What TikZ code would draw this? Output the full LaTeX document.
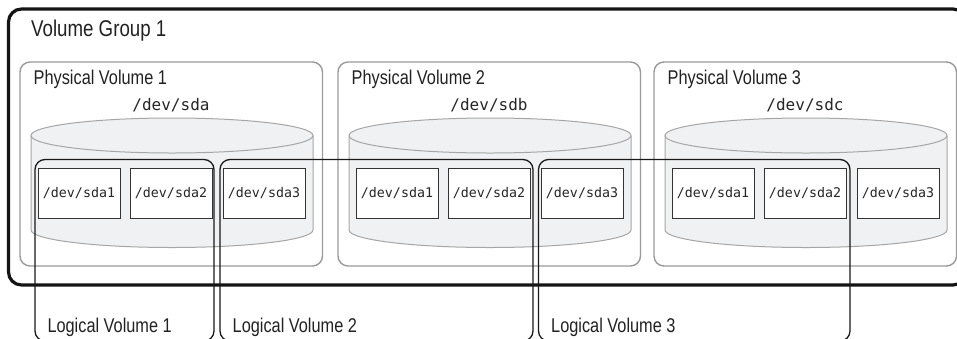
\documentclass[tikz,border=0pt]{standalone}
\usepackage{fontspec}
\setmainfont{Liberation Sans}[FakeStretch=0.82]
\newfontfamily\devmono{DejaVu Sans Mono}
\definecolor{cylfill}{HTML}{F0F1F2}
\definecolor{cylline}{HTML}{A6A6A6}
\definecolor{pvline}{HTML}{9A9A9A}
\definecolor{inktext}{HTML}{222222}
\begin{document}
\begin{tikzpicture}[x=1pt,y=-1pt,
  vgbox/.style={draw=black!92,line width=3.2pt,rounded corners=13pt},
  pvbox/.style={draw=pvline,line width=1.4pt,rounded corners=10pt},
  cylstroke/.style={draw=cylline,line width=1pt},
  partbox/.style={draw=black!80,fill=white,line width=0.9pt,minimum width=82pt,minimum height=50pt,inner sep=0pt,
    font=\devmono\fontsize{13.3}{16}\selectfont,text=black!85},
  devlabel/.style={anchor=base,inner sep=0pt,font=\devmono\fontsize{16}{19}\selectfont,text=black!85},
  lvline/.style={draw=black!90,line width=1.3pt,rounded corners=10pt},
  biglabel/.style={anchor=base west,inner sep=0pt,text=inktext,font=\fontsize{22.8}{27}\selectfont},
  midlabel/.style={anchor=base west,inner sep=0pt,text=inktext,font=\fontsize{19.9}{24}\selectfont}]
\useasboundingbox (0,0) rectangle (957,338);
\fill[white] (0,0) rectangle (957,338);
\clip (0,0) rectangle (957,338);
% volume group
\draw[vgbox] (8.5,9) rectangle (966,285);
\node[biglabel] (vglabel) at (31,36) {Volume Group 1};
% physical volumes
\foreach \L/\n/\d in {20/1/a,338/2/b,654/3/c}{
  \draw[pvbox] (\L,62) rectangle ++(302.5,204);
  \node[midlabel] (pv\n) at (\L+13.5,84) {Physical Volume \n};
  \node[devlabel] (dev\n) at (\L+151,110) {/dev/sd\d};
  \fill[cylfill] (\L+11,135.5) -- (\L+11,230)
     arc[start angle=180,end angle=360,x radius=141pt,y radius=17.5pt]
     -- (\L+293,135.5)
     arc[start angle=0,end angle=180,x radius=141pt,y radius=17.5pt] -- cycle;
  \draw[cylstroke] (\L+11,135.5) -- (\L+11,230)
     arc[start angle=180,end angle=360,x radius=141pt,y radius=17.5pt]
     -- (\L+293,135.5);
  \draw[cylstroke] (\L+152,135.5) ellipse [x radius=141pt,y radius=17.5pt];
  \node[partbox] (p\n a) at (\L+59,193) {/dev/sda1};
  \node[partbox] (p\n b) at (\L+151,193) {/dev/sda2};
  \node[partbox] (p\n c) at (\L+244,193) {/dev/sda3};
}
% logical volumes
\draw[lvline] (35,159.5) rectangle (214,341);
\draw[lvline] (220,159.5) rectangle (533,341);
\draw[lvline] (538.5,159.5) rectangle (850,341);
\node[midlabel] (lv1) at (47.3,332.3) {Logical Volume 1};
\node[midlabel] (lv2) at (232.5,332.3) {Logical Volume 2};
\node[midlabel] (lv3) at (551,332.3) {Logical Volume 3};
\end{tikzpicture}
\end{document}
